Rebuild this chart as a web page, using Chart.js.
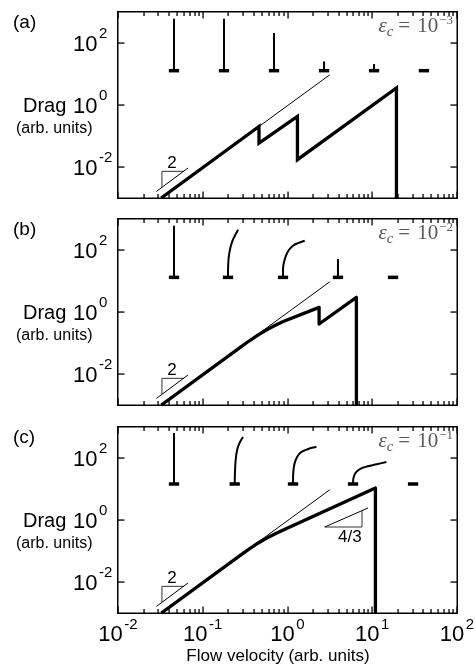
<!DOCTYPE html>
<html>
<head>
<meta charset="utf-8">
<title>Drag vs flow velocity</title>
<script src="https://cdn.jsdelivr.net/npm/chart.js@4.4.1/dist/chart.umd.min.js"></script>
<style>
  body { margin: 0; background: #fff; }
  #wrap { position: relative; width: 476px; height: 668px; overflow: hidden; }
  canvas { position: absolute; left: 0; }
</style>
</head>
<body>
<div id="wrap">
  <canvas id="panelA" width="476" height="207" style="top:0"></canvas>
  <canvas id="panelB" width="476" height="207" style="top:207px"></canvas>
  <canvas id="panelC" width="476" height="253" style="top:415px"></canvas>
</div>
<script>
// ------------------ AXES ------------------
const xDecades = [0.01, 0.1, 1, 10, 100];
const xExps = ['-2', '-1', '0', '1', '2'];
const xMinor = [0.02, 0.03, 0.04, 0.05, 0.06, 0.07, 0.08, 0.09,
                0.2, 0.3, 0.4, 0.5, 0.6, 0.7, 0.8, 0.9,
                2, 3, 4, 5, 6, 7, 8, 9,
                20, 30, 40, 50, 60, 70, 80, 90];
const yDecades = [0.01, 1, 100];
const yExps = ['-2', '0', '2'];

// ------------------ DRAG CURVES ------------------
// (a) eps_c = 1e-3
const dragAX = [0.0323, 0.461, 0.461, 1.31, 1.31, 19.3, 19.3];
const dragAY = [0.001, 0.204, 0.0594, 0.429, 0.0172, 3.53, 0.001];
// (b) eps_c = 1e-2
const dragBX = [0.0325, 0.282, 0.355, 0.447, 0.562, 0.708, 0.891, 2.36, 2.36, 6.5, 6.5];
const dragBY = [0.001, 0.0752, 0.118, 0.180, 0.263, 0.367, 0.495, 1.41, 0.41, 2.96, 0.001];
// (c) eps_c = 1e-1
const dragCX = [0.0325, 0.282, 0.355, 0.447, 0.562, 0.708, 0.891, 10.9, 10.9];
const dragCY = [0.001, 0.0752, 0.1175, 0.178, 0.257, 0.355, 0.479, 10.7, 0.001];

// thin slope-2 guide
const refX = [0.3, 3.15];
const refY = [0.086, 9.4];

// slope triangles
const tri2HypX = [0.0284, 0.0670];
const tri2HypY = [0.00163, 0.00929];
const tri2LegX = [0.0330, 0.0330, 0.0598];
const tri2LegY = [0.00221, 0.00724, 0.00724];
const tri43HypX = [2.75, 8.91];
const tri43HypY = [0.594, 2.44];
const tri43LegX = [2.75, 7.57, 7.57];
const tri43LegY = [0.594, 0.594, 2.0];

// ------------------ FIBRE SKETCHES ------------------
const iconBaseA = 12.8;
const iconsAX = [0.0458, 0.178, 0.693, 2.70, 10.5, 40.7];
const iconsATop = [608, 608, 210, 25.5, 20.9, 12.8];

const iconBaseB = 13.1;
const iconsBX = [0.0458, 0.1986, 0.885, 3.94, 17.6];
const stemsBX = [
  [0.0458, 0.0458],
  [0.1986, 0.1995, 0.2051, 0.2223, 0.2606],
  [0.885, 0.892, 0.952, 1.033, 1.161, 1.355, 1.596],
  [3.94, 3.94]
];
const stemsBY = [
  [13.1, 608],
  [13.1, 31.6, 76.6, 185, 452],
  [13.1, 31.2, 62.2, 98.6, 137.7, 169.4, 199.5],
  [13.1, 51.3]
];

const iconBaseC = 14.5;
const iconsCX = [0.0458, 0.2382, 1.161, 5.93, 30.3];
const stemsCX = [
  [0.0458, 0.0458],
  [0.2382, 0.2402, 0.2448, 0.2549, 0.2729, 0.2985],
  [1.161, 1.170, 1.209, 1.302, 1.451, 1.731, 2.193],
  [5.93, 6.01, 6.38, 7.31, 8.84, 11.29, 14.69]
];
const stemsCY = [
  [14.5, 640],
  [14.5, 36.1, 88.1, 185, 312, 475],
  [14.5, 33.6, 65.5, 110, 154, 192, 232],
  [14.5, 23.2, 33.6, 45.2, 54.3, 63.1, 74.3]
];

// ------------------ HELPERS ------------------
const SANS = '"Liberation Sans", Arial, Helvetica, sans-serif';
const SERIF = '"Liberation Serif", "DejaVu Serif", serif';

function line(xs, ys, width, extra) {
  return Object.assign({
    data: xs.map((v, i) => ({ x: v, y: ys[i] })),
    showLine: true, borderColor: '#000', borderWidth: width,
    pointRadius: 0, pointHoverRadius: 0, fill: false, tension: 0,
    borderCapStyle: 'butt', borderJoinStyle: 'miter'
  }, extra || {});
}

function baseBar(x, y) {
  return line([x / 1.15, x * 1.15], [y, y], 3.5);
}

function powLabel(ctx, exp, x, base, supBase, centered) {
  ctx.font = '22px ' + SANS;
  const w1 = ctx.measureText('10').width;
  ctx.font = '15px ' + SANS;
  const w2 = ctx.measureText(exp).width;
  const left = centered ? x - (w1 + 1.5 + w2) / 2 : x;
  ctx.textAlign = 'left';
  ctx.textBaseline = 'alphabetic';
  ctx.font = '22px ' + SANS;
  ctx.fillText('10', left, base);
  ctx.font = '15px ' + SANS;
  ctx.fillText(exp, left + w1 + 1.5, supBase);
}

const framePlugin = {
  id: 'frame',
  afterDraw(chart, args, o) {
    const { ctx, chartArea: a } = chart;
    const xs = chart.scales.x, ys = chart.scales.y;
    const L = Math.round(a.left), R = Math.round(a.right);
    const T = Math.round(a.top), B = Math.round(a.bottom);
    ctx.save();
    ctx.fillStyle = '#000';
    ctx.strokeStyle = '#000';

    // frame
    ctx.fillRect(L - 1, T - 1, R - L + 2, 1.5);
    ctx.fillRect(L - 1, B - 0.5, R - L + 2, 1.5);
    ctx.fillRect(L - 1, T - 1, 1.5, B - T + 2);
    ctx.fillRect(R - 0.5, T - 1, 1.5, B - T + 2);

    // inward ticks
    xMinor.forEach(v => {
      const p = Math.round(xs.getPixelForValue(v));
      ctx.fillRect(p - 0.6, B - 4, 1.3, 4);
      ctx.fillRect(p - 0.6, T, 1.3, 4);
    });
    xDecades.forEach(v => {
      const p = Math.round(xs.getPixelForValue(v));
      ctx.fillRect(p - 0.6, B - 6.5, 1.3, 6.5);
      ctx.fillRect(p - 0.6, T, 1.3, 6.5);
    });
    yDecades.forEach(v => {
      const p = Math.round(ys.getPixelForValue(v));
      ctx.fillRect(L, p - 0.6, 6.5, 1.3);
      ctx.fillRect(R - 6.5, p - 0.6, 6.5, 1.3);
    });

    // y tick labels
    yDecades.forEach((v, i) => {
      const p = ys.getPixelForValue(v);
      powLabel(ctx, yExps[i], 73, p + 7.5, p - 5, false);
    });

    // x tick labels and title (bottom panel only)
    if (o.xLabels) {
      xDecades.forEach((v, i) => {
        const p = xs.getPixelForValue(v);
        powLabel(ctx, xExps[i], p, B + 27.5, B + 15.5, true);
      });
      ctx.font = '17px ' + SANS;
      ctx.textAlign = 'center';
      ctx.fillText('Flow velocity (arb. units)', 278, B + 48);
    }

    // panel letter and y title
    ctx.textAlign = 'left';
    ctx.font = '19px ' + SANS;
    ctx.fillText(o.name, 13, T + 16);
    const y0 = ys.getPixelForValue(1);
    ctx.font = '20px ' + SANS;
    ctx.fillText('Drag', 23, y0 + 7);
    ctx.font = '16px ' + SANS;
    ctx.fillText('(arb. units)', 16, y0 + 28);

    // slope notes
    ctx.textAlign = 'center';
    ctx.textBaseline = 'middle';
    ctx.font = '17px ' + SANS;
    o.notes.forEach(n => {
      ctx.fillText(n.t, xs.getPixelForValue(n.x), ys.getPixelForValue(n.y));
    });

    // eps_c annotation
    ctx.textBaseline = 'alphabetic';
    ctx.textAlign = 'left';
    ctx.fillStyle = '#5a5a5a';
    const parts = [
      { t: '\u03B5', f: 'italic 21px ' + SERIF, dy: 0, gap: 0 },
      { t: 'c', f: 'italic 15px ' + SERIF, dy: 4, gap: 0 },
      { t: '=', f: '21px ' + SERIF, dy: 0, gap: 5 },
      { t: '10', f: '21px ' + SERIF, dy: 0, gap: 7 },
      { t: '\u2212' + o.eps, f: '13px ' + SERIF, dy: -8, gap: 1 }
    ];
    let total = 0;
    parts.forEach(p => { ctx.font = p.f; p.w = ctx.measureText(p.t).width; total += p.w + p.gap; });
    let cx = R - 4 - total;
    const by = T + 20;
    parts.forEach(p => { cx += p.gap; ctx.font = p.f; ctx.fillText(p.t, cx, by + p.dy); cx += p.w; });
    ctx.restore();
  }
};

function makeChart(id, datasets, frame) {
  const bottomPad = frame.xLabels ? 55 : 9;
  return new Chart(document.getElementById(id), {
    type: 'scatter',
    data: { datasets },
    options: {
      responsive: false,
      animation: false,
      layout: { padding: { left: 118, right: 19, top: 12, bottom: bottomPad } },
      plugins: { legend: { display: false }, tooltip: { enabled: false }, frame },
      scales: {
        x: { type: 'logarithmic', min: 0.01, max: 100, display: false },
        y: { type: 'logarithmic', min: 0.001, max: 1000, display: false }
      }
    },
    plugins: [framePlugin]
  });
}

function common() {
  return [
    line(refX, refY, 1),
    line(tri2HypX, tri2HypY, 1),
    line(tri2LegX, tri2LegY, 1, { borderColor: '#333' })
  ];
}

// ------------------ PANEL A ------------------
const dsA = [line(dragAX, dragAY, 3.3)].concat(common());
iconsAX.forEach((x, i) => {
  dsA.push(baseBar(x, iconBaseA));
  if (iconsATop[i] > iconBaseA) dsA.push(line([x, x], [iconBaseA, iconsATop[i]], 2));
});
makeChart('panelA', dsA, { name: '(a)', eps: '3', xLabels: false, notes: [{ t: '2', x: 0.0434, y: 0.0135 }] });

// ------------------ PANEL B ------------------
const dsB = [line(dragBX, dragBY, 3.3, { borderJoinStyle: 'round' })].concat(common());
iconsBX.forEach(x => dsB.push(baseBar(x, iconBaseB)));
stemsBX.forEach((xs, i) => dsB.push(line(xs, stemsBY[i], 2, { tension: 0.4 })));
makeChart('panelB', dsB, { name: '(b)', eps: '2', xLabels: false, notes: [{ t: '2', x: 0.0434, y: 0.0135 }] });

// ------------------ PANEL C ------------------
const dsC = [line(dragCX, dragCY, 3.3, { borderJoinStyle: 'round' })].concat(common());
dsC.push(line(tri43HypX, tri43HypY, 1));
dsC.push(line(tri43LegX, tri43LegY, 1, { borderColor: '#333' }));
iconsCX.forEach(x => dsC.push(baseBar(x, iconBaseC)));
stemsCX.forEach((xs, i) => dsC.push(line(xs, stemsCY[i], 2, { tension: 0.4 })));
makeChart('panelC', dsC, { name: '(c)', eps: '1', xLabels: true,
  notes: [{ t: '2', x: 0.0434, y: 0.0135 }, { t: '4/3', x: 5.43, y: 0.282 }] });
</script>
</body>
</html>
